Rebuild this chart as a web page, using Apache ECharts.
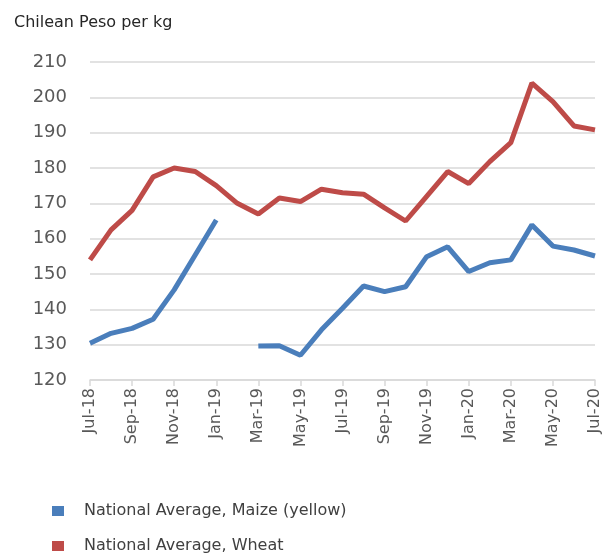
<!DOCTYPE html>
<html>
<head>
<meta charset="utf-8">
<script src="https://cdn.jsdelivr.net/npm/echarts@6/dist/echarts.min.js"></script>
<style>
html,body{margin:0;padding:0;background:#fff;}
#chart{width:611px;height:558px;}
</style>
</head>
<body>
<div id="chart"></div>
<script>
const categories = ["Jul-18","Aug-18","Sep-18","Oct-18","Nov-18","Dec-18","Jan-19","Feb-19","Mar-19","Apr-19","May-19","Jun-19","Jul-19","Aug-19","Sep-19","Oct-19","Nov-19","Dec-19","Jan-20","Feb-20","Mar-20","Apr-20","May-20","Jun-20","Jul-20"];
const maize = [130.4,133.2,134.6,137.2,145.5,155.4,165.3,null,129.6,129.7,127,134.2,140.3,146.6,145,146.4,154.9,157.7,150.7,153.2,154,163.9,157.9,156.8,155.1];
const wheat = [154,162.5,168,177.5,180,179,175,170,167,171.5,170.5,174,173,172.6,168.7,165,172,179,175.6,181.8,187.2,204,198.8,191.9,190.8];
const seriesNames = ["National Average, Maize (yellow)","National Average, Wheat"];
const yTitle = "Chilean Peso per kg";

const font = "'DejaVu Sans', sans-serif";
const legendBase = {
  orient:'vertical',left:52,padding:0,itemWidth:12,itemHeight:10,icon:'rect',
  textStyle:{fontFamily:font,fontSize:16,color:'#404040',padding:[0,0,0,15]}
};
const chart = echarts.init(document.getElementById('chart'), null, {renderer:'canvas'});
chart.setOption({
  animation:false,
  backgroundColor:'#fff',
  title:{text:yTitle,left:9,top:10,textStyle:{fontFamily:font,fontSize:16,fontWeight:'normal',color:'#262626'}},
  legend:[
    Object.assign({}, legendBase, {top:503, data:[seriesNames[0]]}),
    Object.assign({}, legendBase, {top:538, data:[seriesNames[1]]})
  ],
  grid:{left:90,right:16,top:62,bottom:178},
  xAxis:{
    type:'category',data:categories,boundaryGap:false,
    axisLine:{lineStyle:{color:'#d9d9d9',width:1.5}},
    axisTick:{interval:1,length:6,lineStyle:{color:'#d9d9d9',width:1.5}},
    axisLabel:{interval:1,rotate:90,margin:8,fontFamily:font,fontSize:16,color:'#595959'},
    splitLine:{show:false}
  },
  yAxis:{
    type:'value',min:120,max:210,interval:10,
    axisLine:{show:false},axisTick:{show:false},
    axisLabel:{margin:23,fontFamily:font,fontSize:18,color:'#595959'},
    splitLine:{lineStyle:{color:'#d9d9d9',width:1.5}}
  },
  series:[
    {name:seriesNames[0],type:'line',data:maize,showSymbol:false,connectNulls:false,
     lineStyle:{color:'#4a7ebb',width:5},itemStyle:{color:'#4a7ebb'}},
    {name:seriesNames[1],type:'line',data:wheat,showSymbol:false,
     lineStyle:{color:'#be4b48',width:5},itemStyle:{color:'#be4b48'}}
  ]
});
</script>
</body>
</html>
